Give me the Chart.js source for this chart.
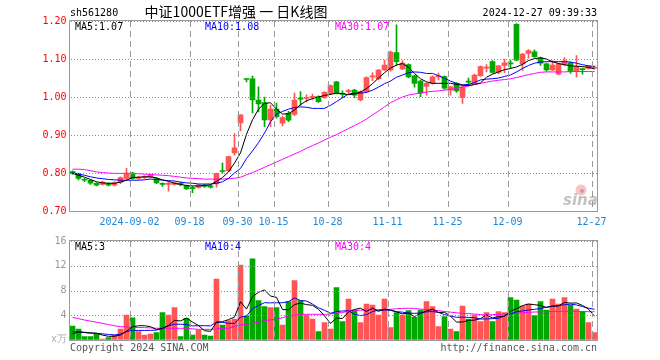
<!DOCTYPE html>
<html>
<head>
<meta charset="utf-8">
<script src="https://cdn.jsdelivr.net/npm/chart.js@4.4.1/dist/chart.umd.min.js"></script>
<style>
html, body { margin: 0; padding: 0; background: #fff; }
#wrap { position: relative; width: 660px; height: 360px; }
canvas { position: absolute; left: 0; top: 0; }
</style>
</head>
<body>
<div id="wrap">
  <canvas id="kline" width="660" height="360"></canvas>
  <canvas id="volume" width="660" height="360"></canvas>
</div>
<script>
// === datos ===
const dates = [
  "08-19","08-20","08-21","08-22","08-23","08-26","08-27","08-28","08-29","08-30",
  "09-02","09-03","09-04","09-05","09-06","09-09","09-10","09-11","09-12","09-13",
  "09-18","09-19","09-20","09-23","09-24","09-25","09-26","09-27","09-30","10-08",
  "10-09","10-10","10-11","10-14","10-15","10-16","10-17","10-18","10-21","10-22",
  "10-23","10-24","10-25","10-28","10-29","10-30","10-31","11-01","11-04","11-05",
  "11-06","11-07","11-08","11-11","11-12","11-13","11-14","11-15","11-18","11-19",
  "11-20","11-21","11-22","11-25","11-26","11-27","11-28","11-29","12-02","12-03",
  "12-04","12-05","12-06","12-09","12-10","12-11","12-12","12-13","12-16","12-17",
  "12-18","12-19","12-20","12-23","12-24","12-25","12-26","12-27"
];
const tickDates = ["09-02","09-18","09-30","10-15","10-28","11-11","11-25","12-09","12-27"];
const tickText  = ["2024-09-02","09-18","09-30","10-15","10-28","11-11","11-25","12-09","12-27"];

const openP = [
  0.804,0.798,0.783,0.781,0.773,0.770,0.772,0.768,0.776,0.786,
  0.800,0.786,0.788,0.789,0.785,0.772,0.770,0.770,0.773,0.766,
  0.761,0.762,0.768,0.766,0.771,0.806,0.806,0.853,0.932,1.048,
  1.048,0.992,0.985,0.940,0.968,0.931,0.957,0.954,0.997,0.996,
  0.999,1.001,0.998,1.009,1.040,1.009,1.014,1.018,0.992,1.014,
  1.053,1.048,1.071,1.071,1.117,1.074,1.085,1.056,1.042,1.028,
  1.036,1.053,1.054,1.018,1.036,0.998,1.041,1.036,1.056,1.076,
  1.093,1.065,1.083,1.089,1.191,1.087,1.115,1.119,1.103,1.087,
  1.071,1.060,1.086,1.090,1.067,1.074,1.075,1.076
];
const highP = [
  0.806,0.800,0.786,0.783,0.775,0.779,0.774,0.777,0.790,0.812,
  0.802,0.792,0.793,0.797,0.788,0.774,0.776,0.777,0.776,0.768,
  0.765,0.771,0.770,0.768,0.800,0.826,0.844,0.904,0.953,1.049,
  1.055,1.027,1.000,0.979,0.984,0.950,0.962,1.010,1.014,1.006,
  1.008,1.003,1.014,1.032,1.041,1.016,1.020,1.020,1.016,1.053,
  1.064,1.073,1.097,1.121,1.190,1.096,1.087,1.058,1.044,1.038,
  1.056,1.063,1.056,1.029,1.038,1.030,1.050,1.060,1.082,1.085,
  1.096,1.083,1.100,1.097,1.193,1.115,1.125,1.124,1.105,1.089,
  1.095,1.089,1.104,1.092,1.109,1.076,1.083,1.082
];
const lowP = [
  0.796,0.782,0.777,0.770,0.766,0.768,0.766,0.766,0.772,0.784,
  0.784,0.783,0.785,0.787,0.772,0.765,0.752,0.768,0.766,0.756,
  0.748,0.760,0.762,0.760,0.763,0.800,0.804,0.847,0.911,1.040,
  0.958,0.961,0.922,0.922,0.944,0.924,0.935,0.951,0.978,0.987,
  0.992,0.986,0.996,1.006,1.008,0.998,1.011,0.998,0.990,1.012,
  1.043,1.045,1.069,1.068,1.084,1.072,1.050,1.026,1.001,1.005,
  1.034,1.045,1.020,1.005,1.012,0.983,1.030,1.033,1.054,1.066,
  1.063,1.061,1.064,1.075,1.095,1.070,1.102,1.104,1.083,1.068,
  1.069,1.058,1.082,1.062,1.052,1.060,1.073,1.074
];
const closeP = [
  0.798,0.786,0.781,0.773,0.768,0.776,0.768,0.774,0.788,0.800,
  0.786,0.788,0.790,0.795,0.774,0.770,0.773,0.774,0.770,0.759,
  0.759,0.768,0.765,0.763,0.799,0.804,0.843,0.866,0.953,1.046,
  0.992,0.982,0.940,0.968,0.948,0.946,0.939,0.992,0.994,0.999,
  1.002,0.988,1.012,1.030,1.010,1.007,1.017,1.005,1.014,1.051,
  1.055,1.071,1.084,1.118,1.093,1.089,1.053,1.036,1.010,1.036,
  1.053,1.055,1.023,1.027,1.016,1.027,1.039,1.058,1.080,1.079,
  1.065,1.082,1.090,1.087,1.097,1.113,1.122,1.106,1.089,1.071,
  1.084,1.087,1.095,1.068,1.080,1.072,1.082,1.078
];
const ma5 = [
  0.799,0.794,0.789,0.783,0.777,0.774,0.773,0.773,0.776,0.781,
  0.788,0.789,0.790,0.790,0.787,0.782,0.778,0.773,0.770,0.767,
  0.766,0.766,0.767,0.769,0.778,0.788,0.803,0.826,0.853,0.902,
  0.940,0.968,0.983,0.985,0.968,0.955,0.956,0.966,0.980,0.990,
  0.996,1.000,1.004,1.007,1.010,1.009,1.006,1.008,1.013,1.022,
  1.035,1.050,1.064,1.076,1.084,1.088,1.078,1.062,1.048,1.040,
  1.036,1.036,1.036,1.036,1.033,1.031,1.030,1.033,1.037,1.052,
  1.060,1.066,1.072,1.075,1.079,1.086,1.096,1.101,1.103,1.100,
  1.093,1.088,1.085,1.082,1.081,1.080,1.078,1.074
];
const ma10 = [
  0.801,0.797,0.794,0.790,0.787,0.785,0.783,0.782,0.781,0.781,
  0.781,0.781,0.782,0.784,0.783,0.781,0.780,0.779,0.776,0.774,
  0.773,0.771,0.771,0.771,0.773,0.777,0.786,0.800,0.812,0.838,
  0.858,0.880,0.905,0.935,0.955,0.962,0.968,0.972,0.974,0.973,
  0.970,0.970,0.970,0.978,0.988,0.998,1.008,1.010,1.010,1.012,
  1.018,1.026,1.035,1.042,1.052,1.058,1.064,1.066,1.065,1.062,
  1.062,1.056,1.049,1.042,1.036,1.032,1.033,1.038,1.045,1.047,
  1.048,1.050,1.054,1.058,1.066,1.075,1.083,1.089,1.092,1.093,
  1.093,1.093,1.093,1.092,1.089,1.085,1.082,1.080
];
const ma30 = [
  0.810,0.810,0.809,0.806,0.803,0.801,0.800,0.799,0.799,0.799,
  0.799,0.798,0.797,0.796,0.795,0.794,0.793,0.791,0.789,0.787,
  0.786,0.785,0.784,0.784,0.784,0.784,0.785,0.786,0.789,0.795,
  0.801,0.808,0.815,0.822,0.829,0.836,0.843,0.850,0.857,0.865,
  0.872,0.879,0.887,0.894,0.901,0.909,0.917,0.925,0.933,0.942,
  0.953,0.963,0.974,0.985,0.993,1.000,1.005,1.008,1.011,1.013,
  1.015,1.016,1.018,1.020,1.023,1.026,1.029,1.033,1.036,1.039,
  1.042,1.044,1.046,1.048,1.051,1.055,1.059,1.062,1.065,1.066,
  1.066,1.066,1.066,1.067,1.067,1.067,1.067,1.067
];

const vol = [
  2.26,1.78,0.54,0.54,0.92,0.16,0.38,0.80,1.78,4.04,
  3.60,1.35,0.80,0.97,1.19,4.42,4.04,5.23,0.54,3.50,
  0.80,1.60,0.80,0.65,9.86,2.42,3.12,3.40,12.10,3.88,
  13.10,6.36,5.39,5.23,5.23,2.42,6.20,9.59,6.36,4.04,
  3.40,1.35,2.80,1.78,8.46,2.96,6.63,4.85,2.80,5.82,
  5.66,4.04,6.63,2.00,4.42,4.04,4.74,3.66,4.85,6.20,
  5.39,2.16,3.77,1.78,1.35,5.50,3.40,4.04,2.96,4.42,
  2.96,4.58,4.42,6.84,6.47,5.50,5.82,3.93,6.20,4.85,
  6.63,5.82,6.84,5.66,5.00,4.58,2.80,1.19
];
const vma5 = [
  1.00,1.30,1.25,1.15,1.10,0.79,0.60,0.60,0.81,1.43,
  2.12,2.31,2.31,2.15,1.70,1.85,2.35,3.17,3.08,3.55,
  2.90,2.33,1.50,1.40,2.85,2.96,3.30,3.70,6.18,5.00,
  7.00,7.70,8.10,7.10,6.90,4.93,4.89,5.73,5.96,5.72,
  5.60,4.95,3.90,2.67,3.56,3.47,4.53,4.94,5.14,4.61,
  5.15,4.63,4.99,4.83,4.55,4.23,4.37,3.77,4.34,4.70,
  4.97,4.45,4.47,3.86,2.89,2.91,3.16,3.21,3.45,4.06,
  3.56,3.79,3.87,4.64,5.05,5.56,5.81,5.71,5.58,5.26,
  5.49,5.49,6.07,5.96,5.99,5.58,4.98,3.85
];
const vma10 = [
  1.35,1.30,1.20,1.10,1.08,1.00,0.90,0.82,0.95,1.35,
  1.55,1.55,1.55,1.55,1.60,1.93,2.30,2.55,2.55,2.50,
  2.28,2.31,2.31,2.28,2.90,2.85,2.70,2.67,3.70,3.86,
  5.09,5.57,6.03,6.00,6.02,6.02,6.20,6.80,6.38,6.30,
  5.80,5.20,4.80,4.32,4.60,4.69,4.74,4.15,3.95,4.09,
  4.60,4.80,4.85,4.80,4.58,4.50,4.35,4.31,4.38,4.55,
  4.60,4.45,4.10,3.90,3.66,3.70,3.66,3.60,3.40,3.40,
  3.45,3.50,3.90,4.20,4.56,4.70,4.85,4.96,5.10,5.30,
  5.45,5.55,5.70,5.80,5.66,5.40,5.15,4.96
];
const vma30 = [
  3.66,3.45,3.23,3.05,2.87,2.69,2.50,2.30,2.16,2.10,
  2.05,2.02,2.00,1.95,1.90,1.89,1.89,1.89,1.89,1.89,
  1.80,1.72,1.72,1.72,1.80,1.89,1.89,2.20,2.42,2.55,
  2.69,2.90,3.10,3.25,3.35,3.60,3.88,4.00,4.15,4.15,
  4.15,4.15,4.15,4.20,4.42,4.42,4.74,4.78,4.82,4.85,
  4.88,4.90,4.93,4.96,5.05,5.12,5.12,5.12,5.00,4.92,
  4.85,4.75,4.60,4.50,4.40,4.31,4.25,4.20,4.10,4.04,
  4.10,4.15,4.20,4.30,4.35,4.42,4.48,4.52,4.55,4.58,
  4.60,4.62,4.63,4.63,4.62,4.60,4.58,4.58
];

// === estilos ===
const RED = "#ff5555";
const GREEN = "#00a800";
const MONO = '"DejaVu Sans Mono", monospace';
const candleColor = closeP.map((c, i) => (c >= openP[i] ? RED : GREEN));

Chart.defaults.font.family = MONO;
Chart.defaults.font.size = 10;
Chart.defaults.animation = false;

// rejilla de Chart.js apagada sobre el área, sin marcas (las líneas se dibujan a mano)
const sinRejilla = { display: true, drawOnChartArea: false, drawTicks: false, color: "rgba(0,0,0,0)" };

function ejeX(conEtiquetas) {
  return {
    type: "category",
    offset: true,
    grid: sinRejilla,
    border: { display: false },
    ticks: {
      display: conEtiquetas,
      autoSkip: false,
      maxRotation: 0,
      padding: 5,
      labelOffset: -3,
      color: "#1e88d8",
      callback: (v, i) => {
        const k = tickDates.indexOf(dates[i]);
        return k < 0 ? "" : tickText[k];
      }
    },
    afterFit: (s) => { s.height = conEtiquetas ? 19 : 0; }
  };
}

function lineaMA(data, color) {
  return { type: "line", data, borderColor: color, borderWidth: 1, pointRadius: 0, tension: 0, order: 0 };
}

// rejilla: punteada horizontal, discontinua vertical (posiciones desde las escalas)
function dibujarRejilla(chart) {
  const { ctx, chartArea: a, scales: { x, y } } = chart;
  ctx.save();
  ctx.fillStyle = "#8c8c8c";
  y.ticks.forEach((t) => {
    const py = Math.round(y.getPixelForValue(t.value));
    for (let px = Math.ceil(a.left) + 1; px < a.right; px += 3) ctx.fillRect(px, py, 1, 1);
  });
  ctx.fillStyle = "#9a9a9a";
  const paso = (a.right - a.left) / dates.length;
  tickDates.forEach((d) => {
    const i = dates.indexOf(d);
    const px = Math.round(x.getPixelForValue(i) - paso / 2);
    for (let py = Math.ceil(a.top); py < a.bottom; py += 10) {
      ctx.fillRect(px, py, 1, Math.min(6, a.bottom - py));
    }
  });
  ctx.restore();
}

const rejilla = {
  id: "rejilla",
  afterDraw(chart) { dibujarRejilla(chart); }
};

// === textos y marcos ===
const marcoPrecio = {
  id: "marcoPrecio",
  afterDraw(chart) {
    const c = chart.ctx;
    c.save();
    c.strokeStyle = "#999";
    c.lineWidth = 1;
    c.strokeRect(69.5, 20.5, 528, 191);
    c.font = "10px " + MONO;
    c.textBaseline = "middle";
    c.textAlign = "left";
    c.fillStyle = "#000";
    c.fillText("sh561280", 70, 13);
    c.fillText("MA5:" + ma5[ma5.length - 1].toFixed(2), 75, 27);
    c.fillStyle = "#0000ff";
    c.fillText("MA10:" + ma10[ma10.length - 1].toFixed(2), 205, 27);
    c.fillStyle = "#ff00ff";
    c.fillText("MA30:" + ma30[ma30.length - 1].toFixed(2), 335, 27);
    c.fillStyle = "#000";
    c.textAlign = "right";
    c.fillText("2024-12-27 09:39:33", 597, 13);
    c.textAlign = "center";
    c.font = '14px "Noto Sans CJK SC"';
    c.fillText("中证1000ETF增强 一 日K线图", 236, 12);
    // marca de agua sina
    c.fillStyle = "rgba(235,90,90,0.35)";
    c.beginPath(); c.arc(581, 190, 5.5, 0, Math.PI * 2); c.fill();
    c.fillStyle = "rgba(90,90,90,0.35)";
    c.beginPath(); c.arc(582, 191, 2, 0, Math.PI * 2); c.fill();
    c.fillStyle = "rgba(120,120,120,0.45)";
    c.font = 'italic bold 15px "DejaVu Sans"';
    c.textAlign = "left";
    c.textBaseline = "alphabetic";
    c.fillText("sina", 563, 205);
    c.restore();
  }
};

const marcoVolumen = {
  id: "marcoVolumen",
  afterDraw(chart) {
    const c = chart.ctx;
    c.save();
    c.strokeStyle = "#999";
    c.lineWidth = 1;
    c.strokeRect(69.5, 240.5, 528, 100);
    c.font = "10px " + MONO;
    c.textBaseline = "middle";
    c.textAlign = "left";
    c.fillStyle = "#000";
    c.fillText("MA5:" + Math.floor(vma5[vma5.length - 1]), 75, 247);
    c.fillStyle = "#0000ff";
    c.fillText("MA10:" + Math.floor(vma10[vma10.length - 1]), 205, 247);
    c.fillStyle = "#ff00ff";
    c.fillText("MA30:" + Math.floor(vma30[vma30.length - 1]), 335, 247);
    c.fillStyle = "#aaa";
    c.textAlign = "right";
    c.fillText("x万", 67, 339);
    c.fillStyle = "#555";
    c.textAlign = "left";
    c.fillText("Copyright 2024 SINA.COM", 70, 348);
    c.textAlign = "right";
    c.fillText("http://finance.sina.com.cn", 597, 348);
    c.restore();
  }
};

// === gráfico de velas ===
new Chart(document.getElementById("kline"), {
  type: "bar",
  data: {
    labels: dates,
    datasets: [
      { data: lowP.map((l, i) => [l, highP[i]]), backgroundColor: candleColor, barThickness: 1, grouped: false, order: 2 },
      { data: openP.map((o, i) => [o, closeP[i]]), backgroundColor: candleColor, barThickness: 5, minBarLength: 1, grouped: false, order: 1 },
      lineaMA(ma5, "#000000"),
      lineaMA(ma10, "#0000ff"),
      lineaMA(ma30, "#ff00ff")
    ]
  },
  options: {
    responsive: false,
    layout: { padding: { top: 21, right: 62.5, bottom: 130, left: 0 } },
    plugins: { legend: { display: false }, tooltip: { enabled: false } },
    scales: {
      x: ejeX(true),
      y: {
        min: 0.7,
        max: 1.2,
        grid: sinRejilla,
        border: { display: false },
        ticks: { stepSize: 0.1, padding: 3, color: "#ff0000", callback: (v) => Number(v).toFixed(2) },
        afterFit: (s) => { s.width = 69.5; }
      }
    }
  },
  plugins: [rejilla, marcoPrecio]
});

// === gráfico de volumen ===
new Chart(document.getElementById("volume"), {
  type: "bar",
  data: {
    labels: dates,
    datasets: [
      { data: vol, backgroundColor: candleColor, barThickness: 5, grouped: false, order: 1 },
      lineaMA(vma5, "#000000"),
      lineaMA(vma10, "#0000ff"),
      lineaMA(vma30, "#ff00ff")
    ]
  },
  options: {
    responsive: false,
    layout: { padding: { top: 241, right: 62.5, bottom: 20, left: 0 } },
    plugins: { legend: { display: false }, tooltip: { enabled: false } },
    scales: {
      x: ejeX(false),
      y: {
        min: 0,
        max: 16,
        grid: sinRejilla,
        border: { display: false },
        ticks: { stepSize: 4, padding: 3, color: "#999", callback: (v) => (v === 0 ? "" : v) },
        afterFit: (s) => { s.width = 69.5; }
      }
    }
  },
  plugins: [rejilla, marcoVolumen]
});
</script>
</body>
</html>
